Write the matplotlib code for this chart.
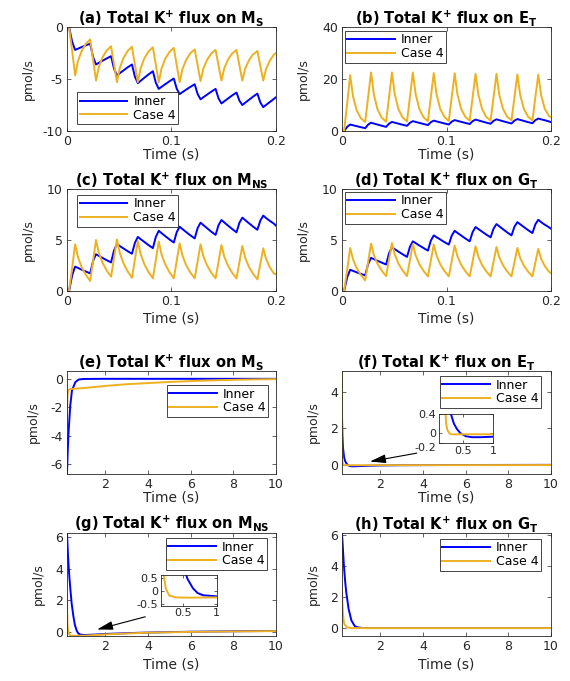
import matplotlib
matplotlib.use('Agg')
import matplotlib.pyplot as plt

plt.rcParams['font.family'] = ['DejaVu Sans']
plt.rcParams['mathtext.fontset'] = 'dejavusans'
plt.rcParams['axes.unicode_minus'] = False

BLUE = (0, 0, 1)
ORANGE = (0.929, 0.694, 0.125)
DARK = '#262626'

# ---- short window (0 - 0.2 s), shared time points ----
t_short = [0, 0.002,
           0.005, 0.0078, 0.0105, 0.014, 0.018, 0.0222,
           0.025, 0.0278, 0.0305, 0.034, 0.038, 0.0422,
           0.045, 0.0478, 0.0505, 0.054, 0.058, 0.0622,
           0.065, 0.0678, 0.0705, 0.074, 0.078, 0.0822,
           0.085, 0.0878, 0.0905, 0.094, 0.098, 0.1022,
           0.105, 0.1078, 0.1105, 0.114, 0.118, 0.1222,
           0.125, 0.1278, 0.1305, 0.134, 0.138, 0.1422,
           0.145, 0.1478, 0.1505, 0.154, 0.158, 0.1622,
           0.165, 0.1678, 0.1705, 0.174, 0.178, 0.1822,
           0.185, 0.1878, 0.1905, 0.194, 0.198, 0.2]

a_inner = [0, 0,
           -1.43, -2.2, -2.08, -1.93, -1.76, -1.6,
           -2.9, -3.6, -3.44, -3.24, -3.02, -2.8,
           -4.0, -4.65, -4.44, -4.18, -3.88, -3.6,
           -4.77, -5.4, -5.17, -4.88, -4.56, -4.25,
           -5.35, -5.95, -5.75, -5.5, -5.22, -4.95,
           -5.93, -6.45, -6.26, -6.02, -5.76, -5.5,
           -6.44, -6.95, -6.75, -6.5, -6.22, -5.95,
           -6.86, -7.35, -7.14, -6.88, -6.58, -6.3,
           -7.08, -7.5, -7.28, -7.01, -6.7, -6.4,
           -7.25, -7.7, -7.49, -7.22, -6.91, -6.75]
a_case4 = [0, 0,
           -2.33, -4.66, -3.28, -2.31, -1.62, -1.2,
           -3.18, -5.15, -3.83, -2.91, -2.25, -1.85,
           -3.58, -5.3, -3.94, -2.99, -2.31, -1.9,
           -3.6, -5.3, -3.96, -3.02, -2.35, -1.95,
           -3.63, -5.3, -3.98, -3.06, -2.4, -2.0,
           -3.65, -5.3, -4.04, -3.16, -2.53, -2.15,
           -3.68, -5.2, -4.0, -3.16, -2.56, -2.2,
           -3.68, -5.15, -3.97, -3.14, -2.55, -2.2,
           -3.68, -5.15, -4.01, -3.21, -2.64, -2.3,
           -3.73, -5.15, -4.03, -3.25, -2.65, -2.5]

b_inner = [0, 0,
           1.63, 2.5, 2.22, 1.87, 1.48, 1.1,
           2.47, 3.2, 2.88, 2.48, 2.03, 1.6,
           2.84, 3.5, 3.2, 2.83, 2.41, 2.0,
           3.17, 3.8, 3.5, 3.13, 2.71, 2.3,
           3.4, 4.0, 3.7, 3.33, 2.91, 2.5,
           3.6, 4.2, 3.9, 3.53, 3.11, 2.7,
           3.8, 4.4, 4.08, 3.68, 3.23, 2.8,
           3.9, 4.5, 4.18, 3.78, 3.33, 2.9,
           4.0, 4.6, 4.28, 3.88, 3.43, 3.0,
           4.17, 4.8, 4.5, 4.15, 3.7, 3.4]
b_case4 = [0, 0,
           10.75, 21.5, 13.4, 8.0, 4.94, 3.5,
           13.0, 22.5, 14.0, 8.33, 5.11, 3.6,
           13.05, 22.5, 14.04, 8.4, 5.2, 3.7,
           13.1, 22.5, 14.09, 8.48, 5.3, 3.8,
           13.05, 22.3, 14.02, 8.5, 5.37, 3.9,
           13.05, 22.2, 14.01, 8.55, 5.46, 4.0,
           13.0, 22.0, 13.9, 8.5, 5.44, 4.0,
           13.0, 22.0, 13.95, 8.58, 5.53, 4.1,
           12.95, 21.8, 13.84, 8.53, 5.52, 4.1,
           12.9, 21.7, 13.83, 8.58, 5.8, 5.3]

c_inner = [0, 0,
           1.55, 2.39, 2.26, 2.09, 1.91, 1.73,
           2.95, 3.6, 3.44, 3.24, 3.02, 2.8,
           3.97, 4.6, 4.41, 4.17, 3.91, 3.65,
           4.72, 5.3, 5.08, 4.81, 4.5, 4.2,
           5.3, 5.9, 5.67, 5.38, 5.06, 4.75,
           5.76, 6.3, 6.07, 5.78, 5.46, 5.15,
           6.16, 6.7, 6.46, 6.16, 5.82, 5.5,
           6.45, 6.96, 6.72, 6.42, 6.08, 5.75,
           6.69, 7.19, 6.95, 6.65, 6.32, 6.0,
           6.9, 7.39, 7.15, 6.88, 6.6, 6.4]
c_case4 = [0, 0,
           2.29, 4.58, 3.32, 2.35, 1.59, 0.98,
           2.99, 5.0, 3.74, 2.77, 2.01, 1.4,
           3.23, 5.06, 3.74, 2.73, 1.94, 1.3,
           3.1, 4.9, 3.62, 2.63, 1.86, 1.24,
           3.04, 4.84, 3.58, 2.61, 1.85, 1.24,
           2.96, 4.67, 3.47, 2.54, 1.82, 1.24,
           2.91, 4.58, 3.41, 2.51, 1.81, 1.24,
           2.87, 4.5, 3.36, 2.48, 1.79, 1.24,
           2.83, 4.41, 3.27, 2.38, 1.7, 1.14,
           2.66, 4.18, 3.14, 2.33, 1.71, 1.63]

d_inner = [0, 0,
           1.35, 2.08, 1.97, 1.83, 1.68, 1.53,
           2.65, 3.25, 3.12, 2.96, 2.78, 2.6,
           3.7, 4.29, 4.1, 3.86, 3.6, 3.34,
           4.33, 4.87, 4.69, 4.46, 4.21, 3.96,
           4.93, 5.45, 5.27, 5.05, 4.79, 4.55,
           5.43, 5.9, 5.69, 5.44, 5.15, 4.87,
           5.78, 6.27, 6.07, 5.82, 5.53, 5.26,
           6.11, 6.56, 6.34, 6.06, 5.75, 5.45,
           6.3, 6.75, 6.54, 6.27, 5.97, 5.68,
           6.53, 6.98, 6.75, 6.5, 6.25, 6.1]
d_case4 = [0, 0,
           2.11, 4.22, 3.11, 2.25, 1.58, 1.04,
           2.84, 4.64, 3.53, 2.67, 2.0, 1.46,
           3.08, 4.7, 3.57, 2.69, 2.01, 1.46,
           3.03, 4.6, 3.49, 2.63, 1.97, 1.43,
           2.99, 4.55, 3.46, 2.62, 1.96, 1.43,
           2.94, 4.45, 3.39, 2.58, 1.94, 1.43,
           2.91, 4.38, 3.35, 2.55, 1.93, 1.43,
           2.88, 4.32, 3.31, 2.53, 1.92, 1.43,
           2.83, 4.22, 3.24, 2.49, 1.9, 1.43,
           2.78, 4.12, 3.18, 2.45, 1.89, 1.75]

# ---- long window (0.2 - 10 s) ----
e_t_inner = [0.2, 0.235, 0.275, 0.355, 0.434, 0.59, 0.744, 0.98, 2, 4, 6, 8, 10]
e_inner = [-6.7, -5.1, -3.74, -1.87, -0.82, -0.24, -0.05, -0.01, 0, 0, 0, 0, 0]
e_t_case4 = [0.2, 0.21, 0.23, 0.26, 0.35, 0.6, 1, 2, 3, 4, 5, 6, 7, 8, 9, 10]
e_case4 = [-3.4, -2.0, -1.1, -0.8, -0.72, -0.69, -0.65, -0.5, -0.38, -0.3,
           -0.22, -0.16, -0.11, -0.07, -0.04, -0.02]

f_t_inner = [0.2, 0.22, 0.25, 0.3, 0.35, 0.4, 0.46, 0.55, 0.65, 0.8, 1.0, 1.5, 2, 3, 5, 10]
f_inner = [2.6, 1.6, 0.9, 0.4, 0.2, 0.09, 0.0, -0.06, -0.08, -0.08, -0.07,
           -0.05, -0.035, -0.02, -0.01, 0.0]
f_t_case4 = [0.2, 0.205, 0.21, 0.22, 0.24, 0.27, 0.3, 1, 10]
f_case4 = [5.2, 1.5, 0.45, 0.2, 0.07, 0.01, -0.02, -0.02, -0.01]

g_t_inner = [0.2, 0.25, 0.3, 0.36, 0.42, 0.5, 0.57, 0.65, 0.72, 0.8, 1.0, 1.5, 2, 3, 4, 6, 8, 10]
g_inner = [6.3, 4.8, 3.7, 2.7, 1.8, 1.0, 0.45, 0.1, -0.08, -0.16, -0.2, -0.17,
           -0.13, -0.08, -0.04, 0.01, 0.04, 0.06]
g_t_case4 = [0.2, 0.21, 0.22, 0.25, 0.3, 0.4, 0.6, 1.0, 1.5, 2, 3, 4, 6, 8, 10]
g_case4 = [2.35, 1.2, 0.6, 0.1, -0.17, -0.24, -0.25, -0.24, -0.2, -0.16, -0.1,
           -0.05, 0.0, 0.03, 0.05]

h_t_inner = [0.2, 0.25, 0.29, 0.35, 0.4, 0.51, 0.64, 0.8, 0.95, 1.2, 2, 10]
h_inner = [6.1, 4.9, 3.98, 2.95, 2.28, 1.21, 0.47, 0.1, 0.02, -0.02, -0.02, -0.02]
h_t_case4 = [0.2, 0.22, 0.25, 0.29, 0.33, 0.45, 0.64, 1, 10]
h_case4 = [2.5, 1.6, 0.79, 0.35, 0.19, 0.02, -0.02, -0.02, -0.02]

series_names = ['Inner', 'Case 4']
titles = [r'(a) Total K$^{\mathbf{+}}$ flux on M$_{\mathbf{S}}$',
          r'(b) Total K$^{\mathbf{+}}$ flux on E$_{\mathbf{T}}$',
          r'(c) Total K$^{\mathbf{+}}$ flux on M$_{\mathbf{NS}}$',
          r'(d) Total K$^{\mathbf{+}}$ flux on G$_{\mathbf{T}}$',
          r'(e) Total K$^{\mathbf{+}}$ flux on M$_{\mathbf{S}}$',
          r'(f) Total K$^{\mathbf{+}}$ flux on E$_{\mathbf{T}}$',
          r'(g) Total K$^{\mathbf{+}}$ flux on M$_{\mathbf{NS}}$',
          r'(h) Total K$^{\mathbf{+}}$ flux on G$_{\mathbf{T}}$']

short_xticks = [0, 0.1, 0.2]
short_xticklabels = ['0', '0.1', '0.2']
long_xticks = [2, 4, 6, 8, 10]


def style_axes(ax, fs=9):
    ax.tick_params(direction='in', top=True, right=True, length=3, width=0.5,
                   colors=DARK, labelsize=fs, pad=3)
    for sp in ax.spines.values():
        sp.set_linewidth(0.6)
        sp.set_color(DARK)


def panel(rect, title, tx, yi, yc, xlim, ylim, xticks, yticks, leg_loc, leg_anchor,
          ylab_dx, xlab_dy, xticklabels=None):
    ax = fig.add_axes(rect)
    ax.plot(tx[0], yi, color=BLUE, lw=1.4, label=series_names[0])
    ax.plot(tx[1], yc, color=ORANGE, lw=1.4, label=series_names[1])
    ax.set_xlim(xlim)
    ax.set_ylim(ylim)
    ax.set_xticks(xticks)
    if xticklabels is not None:
        ax.set_xticklabels(xticklabels)
    ax.set_yticks(yticks)
    ax.set_yticklabels([str(v) for v in yticks])
    style_axes(ax)
    ax.set_title(title, fontsize=10.5, fontweight='bold', pad=3, color='k')
    ax.set_ylabel('pmol/s', fontsize=9, color=DARK, va='center')
    ax.yaxis.set_label_coords(ylab_dx, 0.5)
    ax.set_xlabel('Time (s)', fontsize=10, color=DARK, va='center')
    ax.xaxis.set_label_coords(0.5, xlab_dy)
    leg = ax.legend(loc=leg_loc, bbox_to_anchor=leg_anchor, fontsize=9,
                    handlelength=3.8, handletextpad=0.5, borderpad=0.2,
                    labelspacing=0.05, borderaxespad=0, fancybox=False,
                    framealpha=1, edgecolor=DARK)
    leg.get_frame().set_linewidth(0.6)
    return ax


def inset(rect, tx, yi, tc, yc, xlim, ylim, xticks, xticklabels, yticks, yticklabels):
    ax = fig.add_axes(rect)
    ax.plot(tx, yi, color=BLUE, lw=1.4)
    ax.plot(tc, yc, color=ORANGE, lw=1.4)
    ax.set_xlim(xlim)
    ax.set_ylim(ylim)
    ax.set_xticks(xticks)
    ax.set_xticklabels(xticklabels)
    ax.set_yticks(yticks)
    ax.set_yticklabels(yticklabels)
    style_axes(ax, fs=8)
    ax.tick_params(length=2, pad=2)
    return ax


fig = plt.figure(figsize=(5.7, 6.81), dpi=100)

L, R, W = 0.1175, 0.6, 0.3667
rows = [(0.8076, 0.1527), (0.5727, 0.1498), (0.3040, 0.1512), (0.0661, 0.1512)]

ts = (t_short, t_short)
panel([L, rows[0][0], W, rows[0][1]], titles[0], ts, a_inner, a_case4,
      (0, 0.2), (-10, 0), short_xticks, [-10, -5, 0], 'lower left', (0.048, 0.067),
      -0.185, -0.23, short_xticklabels)
panel([R, rows[0][0], W, rows[0][1]], titles[1], ts, b_inner, b_case4,
      (0, 0.2), (0, 40), short_xticks, [0, 20, 40], 'upper left', (0.014, 0.962),
      -0.185, -0.23, short_xticklabels)
panel([L, rows[1][0], W, rows[1][1]], titles[2], ts, c_inner, c_case4,
      (0, 0.2), (0, 10), short_xticks, [0, 5, 10], 'upper left', (0.048, 0.941),
      -0.185, -0.27, short_xticklabels)
panel([R, rows[1][0], W, rows[1][1]], titles[3], ts, d_inner, d_case4,
      (0, 0.2), (0, 10), short_xticks, [0, 5, 10], 'upper left', (0.014, 0.971),
      -0.185, -0.27, short_xticklabels)

panel([L, rows[2][0], W, rows[2][1]], titles[4], (e_t_inner, e_t_case4), e_inner, e_case4,
      (0.2, 10), (-6.7, 0.55), long_xticks, [-6, -4, -2, 0], 'upper right', (0.962, 0.864),
      -0.161, -0.23)
ax_f = panel([R, rows[2][0], W, rows[2][1]], titles[5], (f_t_inner, f_t_case4), f_inner, f_case4,
             (0.2, 10), (-0.5, 5.14), long_xticks, [0, 2, 4], 'upper right', (0.952, 0.951),
             -0.137, -0.23)
ax_g = panel([L, rows[3][0], W, rows[3][1]], titles[6], (g_t_inner, g_t_case4), g_inner, g_case4,
             (0.2, 10), (-0.26, 6.28), long_xticks, [0, 2, 4, 6], 'upper right', (0.957, 0.951),
             -0.137, -0.28)
panel([R, rows[3][0], W, rows[3][1]], titles[7], (h_t_inner, h_t_case4), h_inner, h_case4,
      (0.2, 10), (-0.53, 6.1), long_xticks, [0, 2, 4, 6], 'upper right', (0.952, 0.942),
      -0.137, -0.28)

# zoomed insets
ins_f = inset([0.770, 0.3495, 0.0947, 0.0426], f_t_inner, f_inner, f_t_case4, f_case4,
              (0.1, 1), (-0.2, 0.4), [0.5, 1], ['0.5', '1'], [-0.2, 0, 0.4], ['-0.2', '0', '0.4'])
# the lowest label sits just under the box so it does not run into "0"
ins_f.get_yticklabels()[0].set_va('top')
inset([0.2825, 0.1106, 0.0977, 0.0451], g_t_inner, g_inner, g_t_case4, g_case4,
      (0.18, 1), (-0.55, 0.6), [0.5, 1], ['0.5', '1'], [-0.5, 0, 0.5], ['-0.5', '0', '0.5'])

arrow = dict(arrowstyle='-|>,head_length=0.8,head_width=0.22', color='k', lw=0.8,
             mutation_scale=12, shrinkA=0, shrinkB=0)
ax_f.annotate('', xy=(1.51, 0.18), xytext=(3.70, 0.64), arrowprops=arrow)
ax_g.annotate('', xy=(1.61, 0.15), xytext=(3.87, 0.96), arrowprops=arrow)

fig.savefig('out.png', dpi=100)
